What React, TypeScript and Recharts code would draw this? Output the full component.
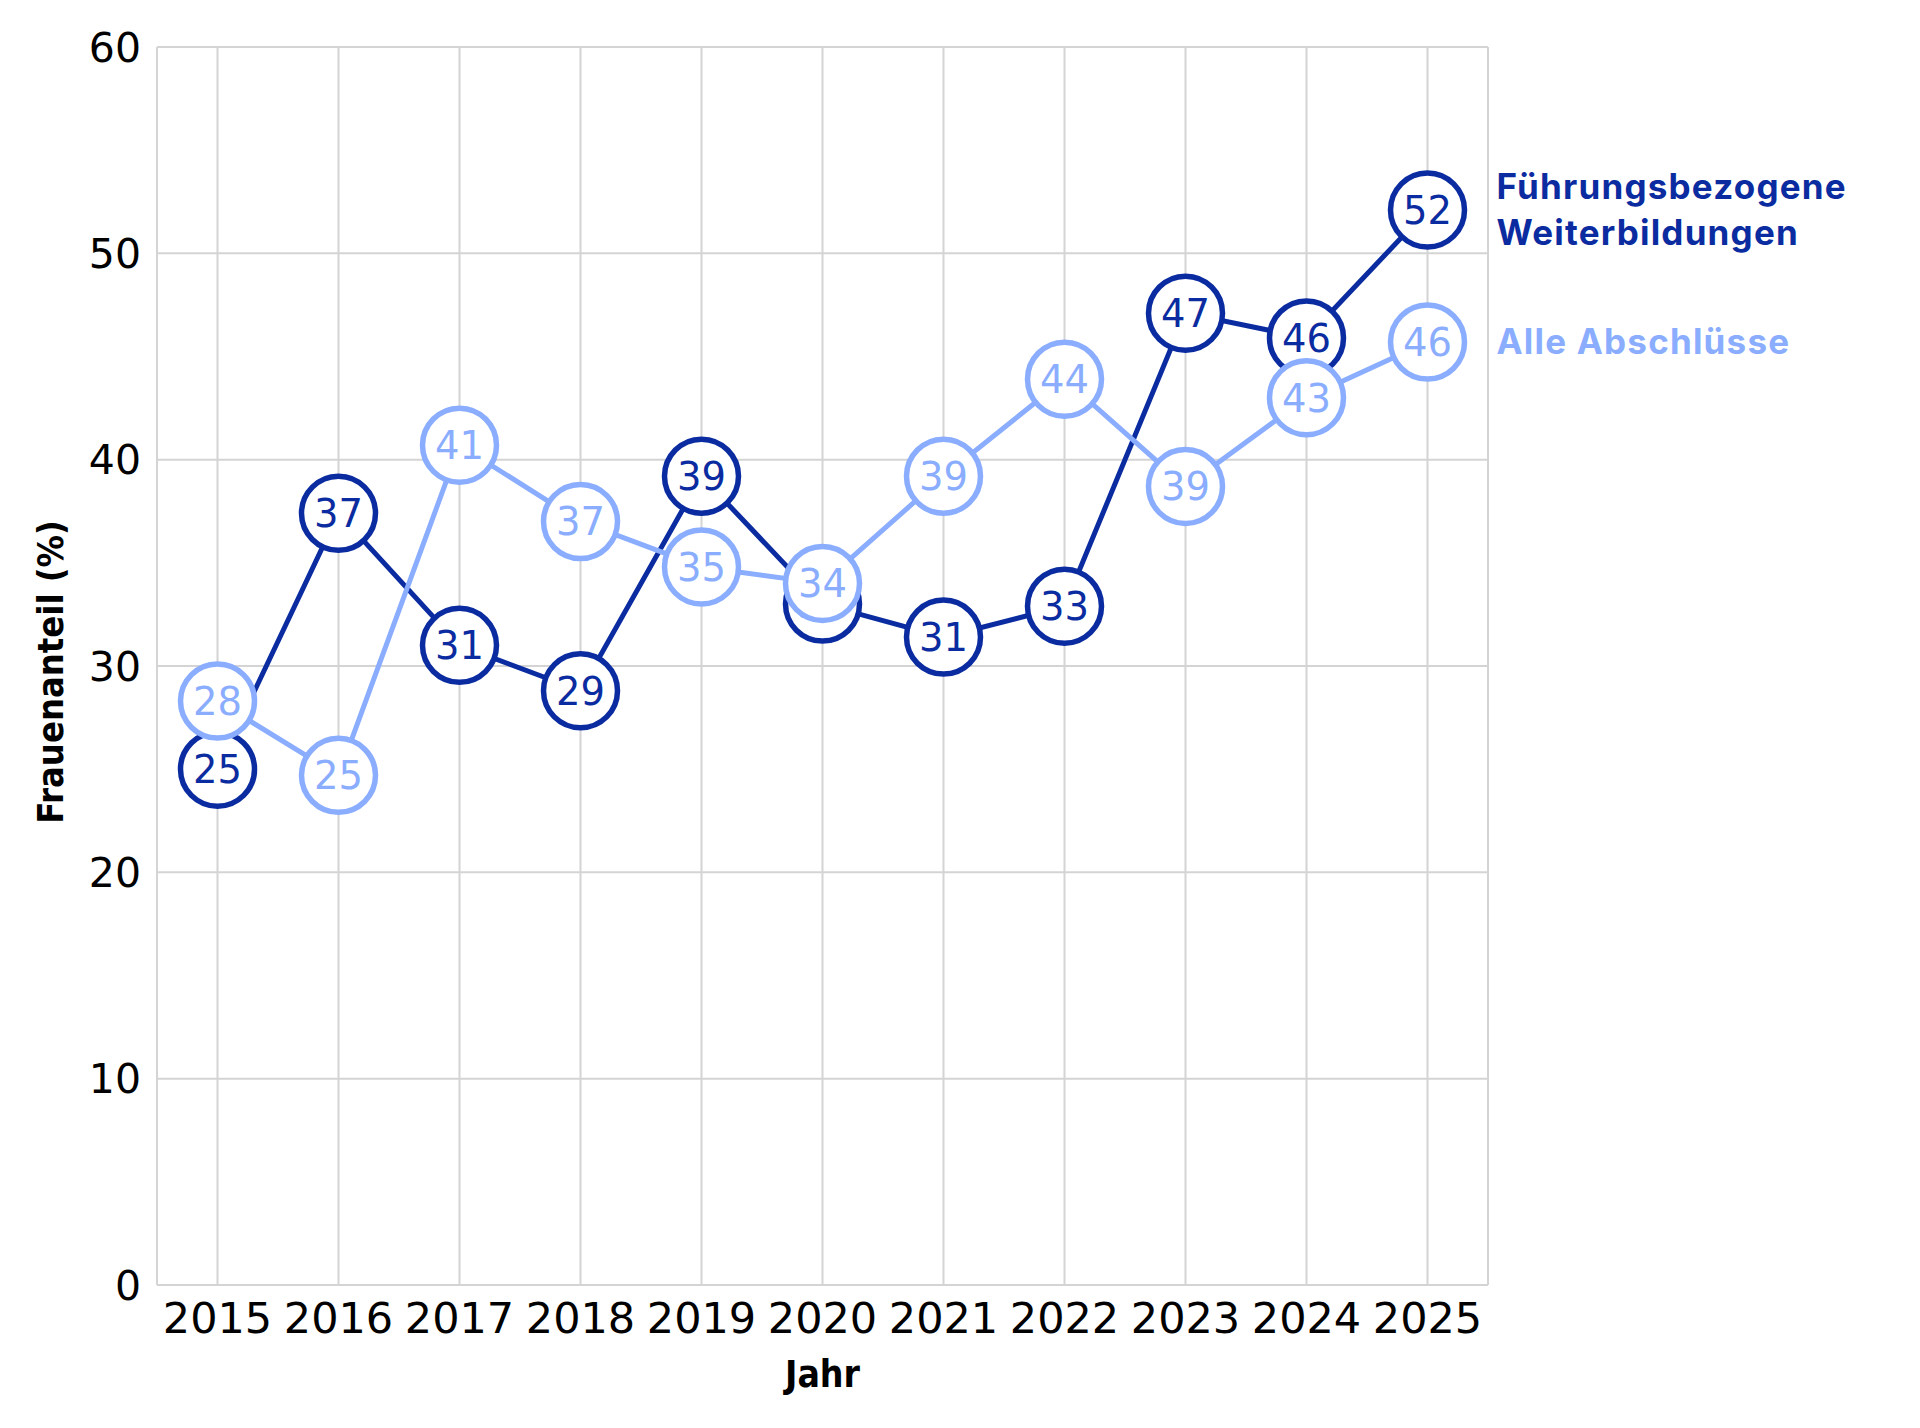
import { LineChart, Line, XAxis, YAxis, CartesianGrid, Label } from 'recharts';

// Frauenanteil in Prozent
const years = [2015, 2016, 2017, 2018, 2019, 2020, 2021, 2022, 2023, 2024, 2025];
const fuehrungValues = [25.0, 37.4, 31.0, 28.8, 39.2, 33.0, 31.4, 32.9, 47.1, 45.9, 52.1];
const alleValues = [28.3, 24.7, 40.7, 37.0, 34.8, 34.0, 39.2, 43.9, 38.7, 43.0, 45.7];
const yTicks = [0, 10, 20, 30, 40, 50, 60];
const fuehrungName = ['Führungsbezogene', 'Weiterbildungen'];
const alleName = ['Alle Abschlüsse'];

const DARK = '#0b2ca0';
const LIGHT = '#8aadff';
const GRID = '#d4d4d4';
const NUM_FONT = "'DejaVu Sans', sans-serif";
const TITLE_FONT = "'DejaVu Sans Condensed', 'DejaVu Sans', sans-serif";
const NAME_FONT = "Inter, 'Noto Sans', sans-serif";

const data = years.map((year, i) => ({
  year,
  fuehrung: fuehrungValues[i],
  alle: alleValues[i],
}));

function makeDot(color: string, key: string, nameLines: string[]) {
  return (props: any) => {
    const { cx, cy, index, payload } = props;
    const value = payload[key];
    const isLast = index === years.length - 1;
    const lineH = 46;
    const firstBaseline = cy + 12 - ((nameLines.length - 1) * lineH) / 2;
    return (
      <g key={`dot-${key}-${index}`}>
        <circle cx={cx} cy={cy} r={37} fill="#fff" stroke={color} strokeWidth={5.5} />
        <text x={cx} y={cy} dy="0.36em" textAnchor="middle" fill={color} fontSize={38.5} fontFamily={NUM_FONT}>
          {Math.round(value)}
        </text>
        {isLast && (
          <text
            x={cx + 69}
            y={firstBaseline}
            fill={color}
            fontSize={35}
            fontWeight={700}
            fontFamily={NAME_FONT}
            letterSpacing={1.2}
          >
            {nameLines.map((t, i) => (
              <tspan key={t} x={cx + 69} dy={i === 0 ? 0 : lineH}>
                {t}
              </tspan>
            ))}
          </text>
        )}
      </g>
    );
  };
}

const YTitle = (props: any) => {
  const { viewBox } = props;
  const cy = viewBox.y + viewBox.height / 2 + 6;
  const x = 63;
  return (
    <text
      x={x}
      y={cy}
      transform={`rotate(-90, ${x}, ${cy})`}
      textAnchor="middle"
      fill="#000"
      fontSize={36}
      fontWeight={700}
      fontFamily={TITLE_FONT}
      style={{ fontStretch: 'condensed' }}
    >
      Frauenanteil (%)
    </text>
  );
};

const tickStyle = { fill: '#000', fontSize: 43, fontFamily: NUM_FONT };

export default function App() {
  return (
    <div style={{ position: 'absolute', left: 0, top: 0, background: '#fff' }}>
      <LineChart width={1920} height={1428} data={data} margin={{ top: 47, right: 432, bottom: 0, left: 0 }}>
        <CartesianGrid stroke={GRID} strokeWidth={2} />
        <XAxis
          dataKey="year"
          type="number"
          domain={[2014.5, 2025.5]}
          ticks={years}
          interval={0}
          height={143}
          tickLine={false}
          axisLine={false}
          tickMargin={11}
          tick={tickStyle}
        >
          <Label
            value="Jahr"
            position="insideBottom"
            offset={41}
            fill="#000"
            fontSize={37}
            fontWeight={700}
            fontFamily={TITLE_FONT}
            style={{ fontStretch: 'condensed' }}
          />
        </XAxis>
        <YAxis
          type="number"
          domain={[0, 60]}
          ticks={yTicks}
          interval={0}
          width={157}
          tickLine={false}
          axisLine={false}
          tickMargin={10}
          tick={{ ...tickStyle, fontSize: 41 }}
        >
          <Label content={YTitle} />
        </YAxis>
        <Line
          type="linear"
          dataKey="fuehrung"
          stroke={DARK}
          strokeWidth={5}
          dot={makeDot(DARK, 'fuehrung', fuehrungName)}
          activeDot={false}
          isAnimationActive={false}
        />
        <Line
          type="linear"
          dataKey="alle"
          stroke={LIGHT}
          strokeWidth={5}
          dot={makeDot(LIGHT, 'alle', alleName)}
          activeDot={false}
          isAnimationActive={false}
        />
      </LineChart>
    </div>
  );
}
